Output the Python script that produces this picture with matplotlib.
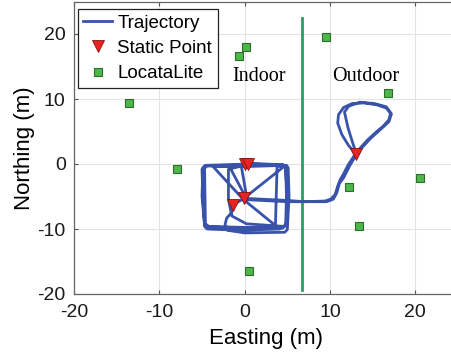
import numpy as np
import matplotlib.pyplot as plt
from matplotlib.lines import Line2D

# LocataLite transmitter positions (m)
lite_east = [-0.7, 0.1, 9.5, 16.8, -13.6, -7.9, 12.2, 20.5, 13.4, 0.5]
lite_north = [16.6, 18.0, 19.5, 10.9, 9.4, -0.8, -3.5, -2.2, -9.5, -16.5]

# static occupation points (m)
static_east = [0.0, 0.4, -0.1, -1.35, 13.1]
static_north = [0.0, 0.0, -5.2, -6.3, 1.5]

# rover trajectory waypoints (m)
traj_east = [13.0, 12.2, 11.4, 10.9, 11.0, 11.6, 12.6, 14.0, 15.5, 16.6, 17.1, 16.9,
             16.3, 15.4, 14.4, 13.5, 12.8, 12.1, 11.6, 11.2, 10.9, 10.6, 10.1, 9.4,
             7.0, 4.9, 0.2,
             -1.7, -1.9, -4.6, -4.9, -5.0, -4.7, -4.3, 0.0, 4.4, 4.8, 4.9, 4.8, 4.5,
             0.5, -0.2, -3.7, -0.2, 4.1, -0.5, -4.4, -4.7, -4.9, -5.0, -4.6, 0.0,
             4.9, 5.1, 5.2, 5.0, 4.7, 0.0, -2.0, -2.3, -2.1, -1.6, -1.4, -0.2,
             4.5, 3.8, 3.7, 3.6, -4.2, -4.6, -4.7, -4.4, 0.4, 0.0, -1.9, -1.9,
             -1.5, 0.2, 4.6, 4.9, 5.0, 4.8, 4.4, 0.0, -0.4, 0.3, 5.0, 9.6,
             10.4, 10.8, 11.1, 11.6, 12.3, 13.1, 12.6, 12.1, 11.7, 12.2, 13.5, 15.2,
             16.6, 17.2, 16.9, 15.9, 14.8, 13.8, 13.0]
traj_north = [1.6, 2.8, 4.5, 6.3, 7.6, 8.7, 9.3, 9.4, 9.1, 8.6, 7.8, 6.8,
              5.9, 4.9, 3.7, 2.4, 1.2, -0.2, -1.5, -2.4, -3.4, -4.7, -5.4, -5.7,
              -5.8, -5.6, -5.3,
              -0.6, -0.3, -0.2, -0.6, -5.0, -9.3, -9.7, -9.8, -9.9, -9.5, -5.0, -0.5,
              -0.1, 0.0, -0.1, -0.4, -5.4, -10.0, -10.2, -10.0, -9.6, -5.0, -0.8, -0.3,
              -0.4, -0.2, -0.6, -5.0, -10.1, -10.5, -10.6, -10.2, -9.3, -8.3, -7.6, -6.3, -5.4,
              -0.5, -0.3, -5.0, -9.9, -9.6, -9.2, -0.7, -0.2, 0.0, -0.2, -0.8, -5.5,
              -8.0, -9.2, -9.6, -9.0, -5.5, -0.6, -0.1, 0.1, -0.3, -5.5, -5.8, -5.8,
              -5.4, -4.4, -3.0, -2.1, -0.3, 1.5, 3.5, 5.6, 8.0, 8.9, 9.5, 9.3,
              8.8, 7.7, 6.5, 5.3, 4.0, 2.6, 1.3]

# indoor / outdoor boundary
wall_east = 6.7
wall_north = [-19.4, 22.5]

plt.rcParams['font.family'] = ['Liberation Sans', 'DejaVu Sans']
plt.rcParams['axes.unicode_minus'] = False

fig = plt.figure(figsize=(4.51, 3.54), dpi=100)
ax = fig.add_axes([74 / 451, 60 / 354, 384 / 451, 292.5 / 354])

ax.plot(traj_east, traj_north, color='#3953aa', lw=2.0, solid_joinstyle='round', zorder=3)
ax.plot([wall_east, wall_east], wall_north, color='#2f9a62', lw=2.0, zorder=2)
ax.plot(lite_east, lite_north, ls='none', marker='s', ms=6, mfc='#4cb847',
        mec='#2f6b2f', mew=0.8, zorder=4)
ax.plot(static_east, static_north, ls='none', marker='v', ms=9, mfc='#e52521',
        mec='#8a1010', mew=0.6, zorder=5)

ax.text(-1.4, 13.4, 'Indoor', family='Liberation Serif', fontsize=14.5, va='center')
ax.text(10.2, 13.5, 'Outdoor', family='Liberation Serif', fontsize=14.5, va='center')

ax.set_xlim(-20, 25)
ax.set_ylim(-20, 25)
ax.set_xticks([-20, -10, 0, 10, 20])
ax.set_yticks([-20, -10, 0, 10, 20])
ax.grid(True, color='#e3e3e3', lw=0.8)
ax.set_axisbelow(True)
ax.tick_params(direction='in', top=True, right=True, labelsize=14, length=3,
               color='#555555', labelcolor='#1a1a1a')
ax.tick_params(axis='x', pad=7.5)
ax.tick_params(axis='y', pad=6)
for s in ax.spines.values():
    s.set_color('#666666')
    s.set_linewidth(0.9)

ax.set_xlabel('Easting (m)', fontsize=16, labelpad=5)
ax.set_ylabel('Northing (m)', fontsize=16, labelpad=2)

handles = [
    Line2D([], [], color='#3953aa', lw=2.0),
    Line2D([], [], ls='none', marker='v', ms=9, mfc='#e52521', mec='#8a1010', mew=0.6),
    Line2D([], [], ls='none', marker='s', ms=6, mfc='#4cb847', mec='#2f6b2f', mew=0.8),
]
leg = ax.legend(handles, ['Trajectory', 'Static Point', 'LocataLite'],
                loc='upper left', bbox_to_anchor=(0.01, 0.975), borderaxespad=0,
                fontsize=13.5, handlelength=1.5, handletextpad=0.3,
                labelspacing=0.44, borderpad=0.3, fancybox=False, framealpha=1)
leg.get_frame().set_edgecolor('#222222')
leg.get_frame().set_linewidth(0.9)

fig.savefig('out.png', dpi=100)
